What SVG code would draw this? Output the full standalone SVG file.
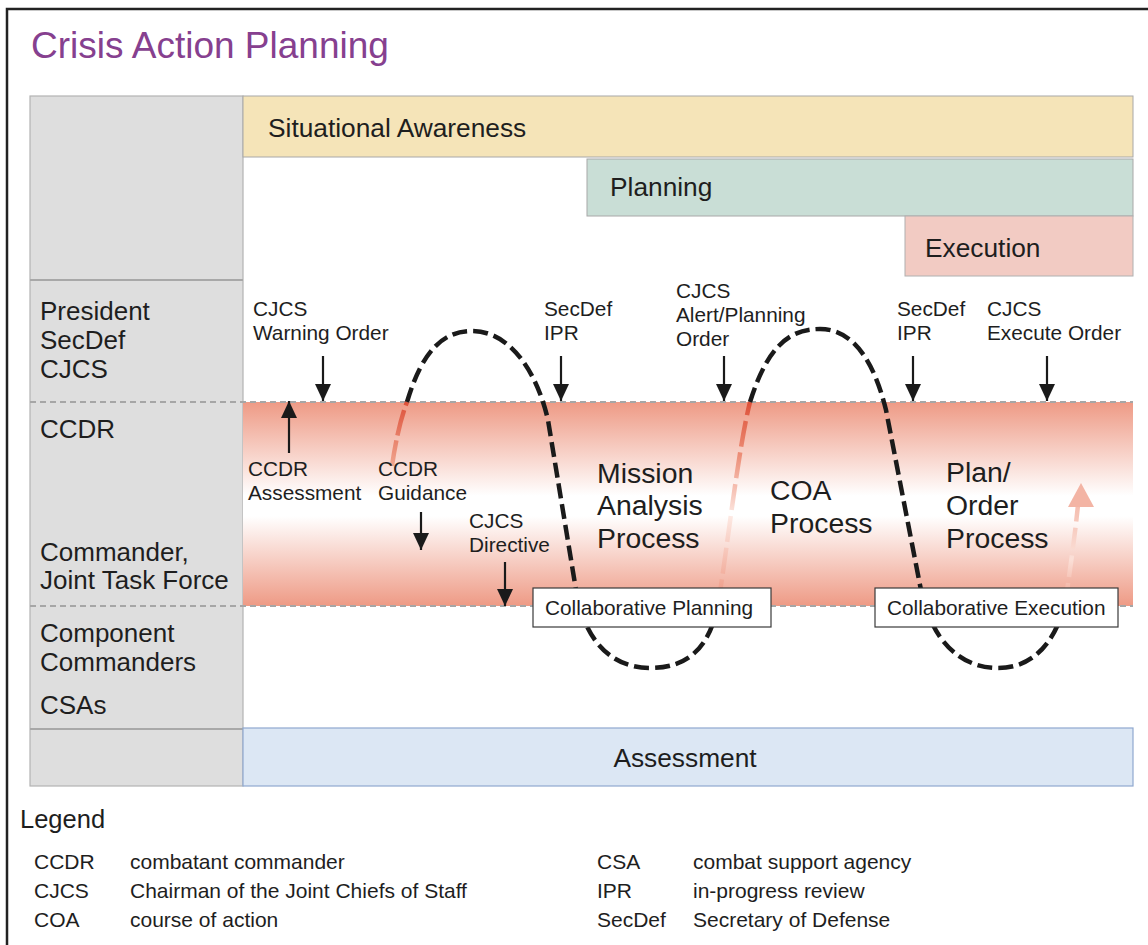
<svg xmlns="http://www.w3.org/2000/svg" width="1148" height="945" viewBox="0 0 1148 945">
<style>
text{font-family:"Liberation Sans",Arial,sans-serif;fill:#1e1e1e}
.title{font-size:37px;fill:#86408f}
.side{font-size:26px}
.bar{font-size:26.3px}
.lbl{font-size:20.8px}
.cl{font-size:20.8px}
.big{font-size:28.4px}
.leg{font-size:21px}
.legt{font-size:25.5px}
.dash{stroke:#a6a6a6;stroke-width:2;stroke-dasharray:6 4;fill:none}
.loop{fill:none;stroke:#1a1a1a;stroke-width:4.5;stroke-dasharray:15 6}
.arr{stroke:#1a1a1a;stroke-width:2.2;fill:none;marker-end:url(#ah)}
.cbox{fill:#ffffff;stroke:#3a3a3a;stroke-width:1.2}
</style>
<defs>
<marker id="ah" markerUnits="userSpaceOnUse" markerWidth="17" markerHeight="16" refX="17" refY="8" orient="auto">
<path d="M0,0 L17,8 L0,16 z" fill="#1a1a1a"/>
</marker>
<linearGradient id="band" x1="0" y1="0" x2="0" y2="1">
<stop offset="0" stop-color="#ee9a85"/>
<stop offset="0.46" stop-color="#ffffff"/>
<stop offset="0.56" stop-color="#ffffff"/>
<stop offset="1" stop-color="#ee9a85"/>
</linearGradient>
<linearGradient id="red1" gradientUnits="userSpaceOnUse" x1="0" y1="402" x2="0" y2="466">
<stop offset="0" stop-color="#dd5038"/>
<stop offset="1" stop-color="#f0a690"/>
</linearGradient>
<linearGradient id="red2" gradientUnits="userSpaceOnUse" x1="0" y1="402" x2="0" y2="610">
<stop offset="0" stop-color="#dd5038"/>
<stop offset="0.25" stop-color="#ec8d76"/>
<stop offset="0.55" stop-color="#fde9e3"/>
<stop offset="1" stop-color="#ec8d76"/>
</linearGradient>
<linearGradient id="pink" gradientUnits="userSpaceOnUse" x1="0" y1="490" x2="0" y2="605">
<stop offset="0" stop-color="#f3b4a4"/>
<stop offset="0.6" stop-color="#fbe0d8"/>
<stop offset="1" stop-color="#f0a08c"/>
</linearGradient>
</defs>

<rect x="7" y="9" width="1170" height="980" fill="#ffffff" stroke="#222" stroke-width="2.5"/>
<text class="title" x="31" y="58">Crisis Action Planning</text>

<g id="left-column">
<rect x="30" y="96" width="213" height="690" fill="#dedede" stroke="#b3b3b3" stroke-width="1.2"/>
<line x1="30" y1="280" x2="243" y2="280" stroke="#a8a8a8" stroke-width="2"/>
<line x1="30" y1="729" x2="243" y2="729" stroke="#a8a8a8" stroke-width="2"/>
</g>

<g id="situational-awareness">
<rect x="243" y="96" width="890" height="61" fill="#f5e4b8" stroke="#a8a8a8" stroke-width="1"/>
<text class="bar" x="268" y="137">Situational Awareness</text>
</g>
<g id="planning">
<rect x="587" y="159" width="546" height="57" fill="#c9ded6" stroke="#a8a8a8" stroke-width="1"/>
<text class="bar" x="610" y="196">Planning</text>
</g>
<g id="execution">
<rect x="905" y="216" width="228" height="60" fill="#f2cbc3" stroke="#b0b0b0" stroke-width="1"/>
<text class="bar" x="925" y="257">Execution</text>
</g>

<g id="band">
<rect x="243" y="402" width="890" height="204" fill="url(#band)"/>
<line class="dash" x1="30" y1="402" x2="1133" y2="402"/>
<line class="dash" x1="30" y1="606" x2="1133" y2="606"/>
</g>

<g id="assessment">
<rect x="243" y="728" width="890" height="58" fill="#dce7f4" stroke="#8fa8cf" stroke-width="1.2"/>
<text class="bar" x="685" y="767" text-anchor="middle">Assessment</text>
</g>

<g id="side-labels">
<text class="side" x="40" y="320">President</text>
<text class="side" x="40" y="349">SecDef</text>
<text class="side" x="40" y="378">CJCS</text>
<text class="side" x="40" y="438">CCDR</text>
<text class="side" x="40" y="561">Commander,</text>
<text class="side" x="40" y="589">Joint Task Force</text>
<text class="side" x="40" y="642">Component</text>
<text class="side" x="40" y="671">Commanders</text>
<text class="side" x="40" y="714">CSAs</text>
</g>

<g id="connectors">
<path d="M392,466 C395,445 400,420 407,402" fill="none" stroke="url(#red1)" stroke-width="4.5" stroke-dasharray="26 5"/>
<path class="loop" d="M407,402 C423,348 445,331 472,331 C510,331 537,372 548,420 L576,590 C585,645 615,668 650,668 C690,668 710,645 718,605"/>
<path d="M718,605 C727,550 738,450 750,402" fill="none" stroke="url(#red2)" stroke-width="4.5" stroke-dasharray="26 6"/>
<path class="loop" d="M750,402 C768,345 790,329 820,329 C855,329 875,365 886,410 L920,585 C930,640 960,668 998,668 C1035,668 1055,640 1065,605"/>
<path d="M1065,605 C1070,570 1075,535 1078,505" fill="none" stroke="url(#pink)" stroke-width="4.5" stroke-dasharray="22 6"/>
<path d="M1068,507 L1081,483 L1094,507 z" fill="#f3b4a4"/>

<line class="arr" x1="323" y1="356" x2="323" y2="401"/>
<line class="arr" x1="289" y1="453" x2="289" y2="401"/>
<line class="arr" x1="421" y1="512" x2="421" y2="550"/>
<line class="arr" x1="505" y1="562" x2="505" y2="606"/>
<line class="arr" x1="561" y1="356" x2="561" y2="401"/>
<line class="arr" x1="724" y1="356" x2="724" y2="401"/>
<line class="arr" x1="913" y1="356" x2="913" y2="401"/>
<line class="arr" x1="1047" y1="356" x2="1047" y2="401"/>
</g>

<g id="collab-planning">
<rect class="cbox" x="533" y="588" width="238" height="39"/>
<text class="cl" x="545" y="615">Collaborative Planning</text>
</g>
<g id="collab-execution">
<rect class="cbox" x="875" y="588" width="243" height="39"/>
<text class="cl" x="887" y="615">Collaborative Execution</text>
</g>

<g id="labels">
<text class="lbl" x="253" y="316">CJCS</text>
<text class="lbl" x="253" y="340">Warning Order</text>
<text class="lbl" x="544" y="316">SecDef</text>
<text class="lbl" x="544" y="340">IPR</text>
<text class="lbl" x="676" y="298">CJCS</text>
<text class="lbl" x="676" y="322">Alert/Planning</text>
<text class="lbl" x="676" y="346">Order</text>
<text class="lbl" x="897" y="316">SecDef</text>
<text class="lbl" x="897" y="340">IPR</text>
<text class="lbl" x="987" y="316">CJCS</text>
<text class="lbl" x="987" y="340">Execute Order</text>
<text class="lbl" x="248" y="476">CCDR</text>
<text class="lbl" x="248" y="500">Assessment</text>
<text class="lbl" x="378" y="476">CCDR</text>
<text class="lbl" x="378" y="500">Guidance</text>
<text class="lbl" x="469" y="528">CJCS</text>
<text class="lbl" x="469" y="552">Directive</text>
</g>

<g id="process-labels">
<text class="big" x="597" y="483">Mission</text>
<text class="big" x="597" y="515">Analysis</text>
<text class="big" x="597" y="548">Process</text>
<text class="big" x="770" y="500">COA</text>
<text class="big" x="770" y="533">Process</text>
<text class="big" x="946" y="482">Plan/</text>
<text class="big" x="946" y="515">Order</text>
<text class="big" x="946" y="548">Process</text>
</g>

<g id="legend">
<text class="legt" x="20" y="828">Legend</text>
<text class="leg" x="34" y="869">CCDR</text>
<text class="leg" x="130" y="869">combatant commander</text>
<text class="leg" x="34" y="898">CJCS</text>
<text class="leg" x="130" y="898">Chairman of the Joint Chiefs of Staff</text>
<text class="leg" x="34" y="927">COA</text>
<text class="leg" x="130" y="927">course of action</text>
<text class="leg" x="597" y="869">CSA</text>
<text class="leg" x="693" y="869">combat support agency</text>
<text class="leg" x="597" y="898">IPR</text>
<text class="leg" x="693" y="898">in-progress review</text>
<text class="leg" x="597" y="927">SecDef</text>
<text class="leg" x="693" y="927">Secretary of Defense</text>
</g>
</svg>
